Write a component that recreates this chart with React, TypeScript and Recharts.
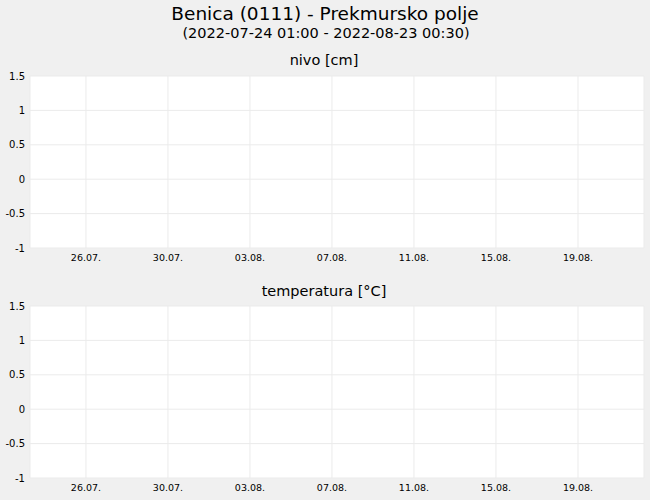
import React from 'react'
import { LineChart, Line, XAxis, YAxis, CartesianGrid } from 'recharts'

// measurement times in days since 24.07.2022 00:00 (period start and end, no readings in between)
const times = [0.042, 29.021]
const nivo: (number | null)[] = [null, null]
const temperatura: (number | null)[] = [null, null]

const xTicks = [2, 6, 10, 14, 18, 22, 26]
const xTickLabels = ['26.07.', '30.07.', '03.08.', '07.08.', '11.08.', '15.08.', '19.08.']
const yTicks = [-1, -0.5, 0, 0.5, 1, 1.5]

const font = 'DejaVu Sans'

interface PanelProps {
  values: (number | null)[]
  top: number
  color: string
}

function Panel({ values, top, color }: PanelProps) {
  const data = times.map((t, i) => ({ t, v: values[i] }))

  return (
    <div style={{ position: 'absolute', left: 0, top }}>
      <LineChart width={650} height={270} data={data} margin={{ top: 76, right: 6, bottom: 0, left: 0 }}>
        <CartesianGrid fill="#ffffff" stroke="#ebebeb" />
        <XAxis
          dataKey="t"
          type="number"
          domain={[-0.73, 29.22]}
          allowDataOverflow
          ticks={xTicks}
          tickFormatter={(v: number) => xTickLabels[xTicks.indexOf(v)] ?? ''}
          axisLine={false}
          tickLine={false}
          tickSize={0}
          tickMargin={6}
          height={22}
          interval={0}
          tick={{ fill: '#000', fontSize: 9.5, fontFamily: font }}
        />
        <YAxis
          dataKey="v"
          type="number"
          domain={[-1, 1.5]}
          allowDataOverflow
          ticks={yTicks}
          axisLine={false}
          tickLine={false}
          tickSize={0}
          tickMargin={5}
          width={30}
          interval={0}
          tick={{ fill: '#000', fontSize: 10, fontFamily: font }}
        />
        <Line type="linear" dataKey="v" stroke={color} strokeWidth={1.5} dot={false} isAnimationActive={false} />
      </LineChart>
    </div>
  )
}

export default function App() {
  return (
    <div style={{ position: 'absolute', left: 0, top: 0, width: 650, height: 500, background: '#f0f0f0', overflow: 'hidden' }}>
      <svg width={650} height={500} style={{ position: 'absolute', left: 0, top: 0 }}>
        <g fontFamily={font} fill="#000" textAnchor="middle">
          <text x={325} y={20} fontSize={18.5}>Benica (0111) - Prekmursko polje</text>
          <text x={326} y={37.5} fontSize={14.5}>(2022-07-24 01:00 - 2022-08-23 00:30)</text>
          <text x={324} y={65} fontSize={14.5}>nivo [cm]</text>
          <text x={324} y={295.5} fontSize={14.5}>temperatura [°C]</text>
        </g>
      </svg>
      <Panel values={nivo} top={0} color="#1f77b4" />
      <Panel values={temperatura} top={230} color="#d62728" />
    </div>
  )
}
